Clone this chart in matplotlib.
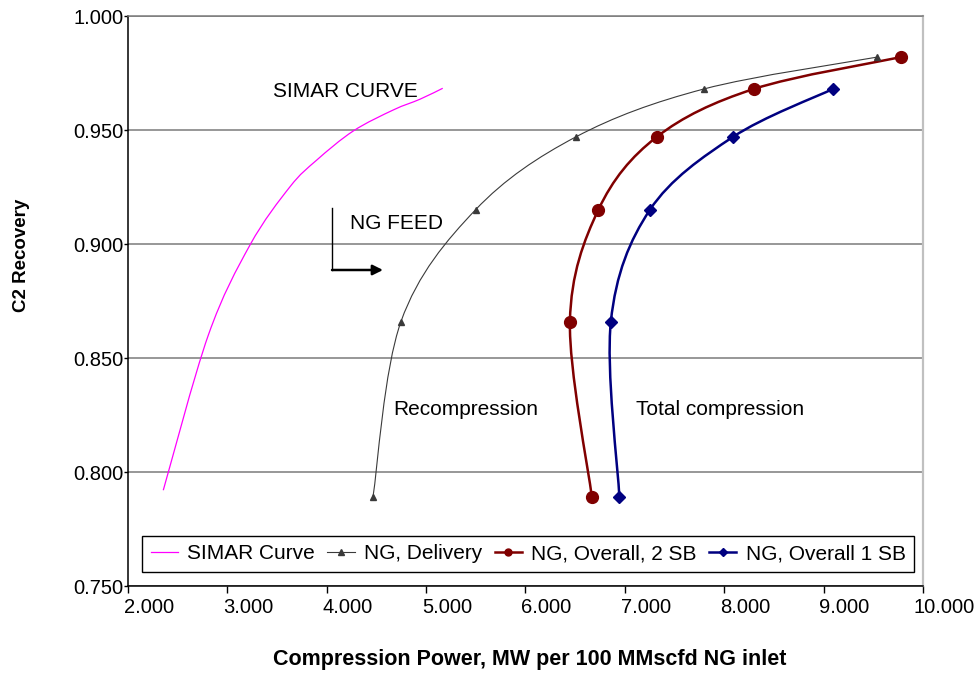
import matplotlib
matplotlib.use('Agg')
import matplotlib.pyplot as plt
import numpy as np
from matplotlib.path import Path
from matplotlib.patches import PathPatch
from matplotlib.lines import Line2D
from matplotlib.transforms import ScaledTranslation, blended_transform_factory

plt.rcParams['font.family'] = ['Liberation Sans', 'DejaVu Sans']

# ---------------- data ----------------
simar_x = [2.355, 2.808, 3.228, 3.630, 3.899, 4.268, 4.670, 4.938, 5.167]
simar_y = [0.792, 0.860, 0.8996, 0.9251, 0.9368, 0.9496, 0.9588, 0.9635, 0.9683]

recovery = [0.789, 0.866, 0.915, 0.947, 0.968, 0.982]
delivery_x = [4.465, 4.747, 5.497, 6.508, 7.796, 9.542]
overall2_x = [6.668, 6.447, 6.733, 7.322, 8.298, 9.782]
overall1_x = [6.945, 6.859, 7.252, 8.089, 9.094]
overall1_y = [0.789, 0.866, 0.915, 0.947, 0.968]

x_ticks = [2, 3, 4, 5, 6, 7, 8, 9, 10]
x_tick_labels = ['2.000', '3.000', '4.000', '5.000', '6.000', '7.000', '8.000', '9.000', '10.000']
y_ticks = [0.75, 0.80, 0.85, 0.90, 0.95, 1.00]
y_tick_labels = ['0.750', '0.800', '0.850', '0.900', '0.950', '1.000']

legend_labels = ['SIMAR Curve', 'NG, Delivery', 'NG, Overall, 2 SB', 'NG, Overall 1 SB']

# annotation anchor positions (data coords)
simar_label_pos = (3.459, 0.9667)
feed_label_pos = (4.234, 0.9092)
feed_arrow_top = (4.053, 0.9158)
feed_arrow_corner = (4.053, 0.8886)
feed_arrow_end = (4.566, 0.8886)
recomp_label_pos = (4.667, 0.8272)
total_label_pos = (7.112, 0.8272)

# ---------------- figure ----------------
W, H = 978, 673
DPI = 100
fig = plt.figure(figsize=(W / DPI, H / DPI), dpi=DPI)
L, R, T, B = 128, 923, 16, 586
ax = fig.add_axes([L / W, (H - B) / H, (R - L) / W, (B - T) / H])
ax.set_xlim(2, 10)
ax.set_ylim(0.75, 1.0)


def smooth_path(xs, ys):
    P = np.column_stack([xs, ys]).astype(float)
    n = len(P)
    verts = [P[0]]
    codes = [Path.MOVETO]
    for i in range(n - 1):
        p0 = P[i - 1] if i > 0 else P[i]
        p1 = P[i]
        p2 = P[i + 1]
        p3 = P[i + 2] if i + 2 < n else P[i + 1]
        c1 = p1 + (p2 - p0) / 6.0
        c2 = p2 - (p3 - p1) / 6.0
        verts += [c1, c2, p2]
        codes += [Path.CURVE4] * 3
    return Path(verts, codes)


magenta = '#FF00FF'
gray = '#3a3a3a'
red = '#800000'
blue = '#000080'

ax.add_patch(PathPatch(smooth_path(simar_x, simar_y), fill=False, edgecolor=magenta, lw=0.9, zorder=3))
ax.add_patch(PathPatch(smooth_path(delivery_x, recovery), fill=False, edgecolor=gray, lw=0.8, zorder=3))
ax.plot(delivery_x, recovery, ls='none', marker='^', ms=5, color=gray, zorder=4)
ax.add_patch(PathPatch(smooth_path(overall2_x, recovery), fill=False, edgecolor=red, lw=1.8, zorder=3))
ax.plot(overall2_x, recovery, ls='none', marker='o', ms=8.5, color=red, zorder=4)
ax.add_patch(PathPatch(smooth_path(overall1_x, overall1_y), fill=False, edgecolor=blue, lw=1.8, zorder=3))
ax.plot(overall1_x, overall1_y, ls='none', marker='D', ms=6.5, color=blue, zorder=4)

# grid
ax.set_yticks(y_ticks)
ax.set_yticklabels(y_tick_labels, fontsize=14.5)
ax.set_xticks(x_ticks)
ax.set_xticklabels([])
ax.yaxis.grid(True, color='#7a7a7a', lw=1.1)
ax.set_axisbelow(True)
ax.tick_params(axis='y', direction='out', length=3, width=1, pad=0.5, color='black')
ax.tick_params(axis='x', direction='out', length=5, width=1, color='black')

for s in ['left', 'bottom']:
    ax.spines[s].set_color('black')
    ax.spines[s].set_linewidth(1.1)
ax.spines['top'].set_color('#7a7a7a')
ax.spines['top'].set_linewidth(1.1)
ax.spines['right'].set_color('#c0c0c0')
ax.spines['right'].set_linewidth(1.6)

# x tick labels, offset to the right as in the reference
trans = blended_transform_factory(ax.transData, ax.transAxes) + ScaledTranslation(21 / DPI, -12 / DPI, fig.dpi_scale_trans)
for v, lab in zip(x_ticks, x_tick_labels):
    ax.text(v, 0, lab, transform=trans, ha='center', va='top', fontsize=14.5, clip_on=False)

# annotations
ax.text(*simar_label_pos, 'SIMAR CURVE', fontsize=15, ha='left', va='center')
ax.text(*feed_label_pos, 'NG FEED', fontsize=15, ha='left', va='center')
ax.text(*recomp_label_pos, 'Recompression', fontsize=15, ha='left', va='center')
ax.text(*total_label_pos, 'Total compression', fontsize=15, ha='left', va='center')
ax.plot([feed_arrow_top[0], feed_arrow_corner[0]], [feed_arrow_top[1], feed_arrow_corner[1]],
        color='black', lw=1.0, zorder=5)
ax.annotate('', xy=feed_arrow_end, xytext=feed_arrow_corner,
            arrowprops=dict(arrowstyle='-|>,head_length=0.6,head_width=0.3', color='black', lw=1.8,
                            shrinkA=0, shrinkB=0), zorder=5)

# axis labels
fig.text(22 / W, 1 - 255 / H, 'C2 Recovery', rotation=90, ha='center', va='center',
         fontsize=13.5, fontweight='bold')
fig.text(530 / W, 1 - 659 / H, 'Compression Power, MW per 100 MMscfd NG inlet', ha='center', va='center',
         fontsize=15.5, fontweight='bold')

# legend
handles = [
    Line2D([], [], color=magenta, lw=0.9),
    Line2D([], [], color=gray, lw=0.8, marker='^', ms=4),
    Line2D([], [], color=red, lw=1.8, marker='o', ms=5),
    Line2D([], [], color=blue, lw=1.8, marker='D', ms=4),
]
leg = ax.legend(handles, legend_labels, ncol=4, loc='lower left',
                bbox_to_anchor=((142 - L) / (R - L), (B - 572) / (B - T)), borderaxespad=0,
                fontsize=15, handlelength=1.3, handletextpad=0.45, columnspacing=0.6,
                borderpad=0.42, fancybox=False, framealpha=1, edgecolor='black')
leg.get_frame().set_linewidth(1.0)

fig.savefig('out.png', dpi=DPI)
